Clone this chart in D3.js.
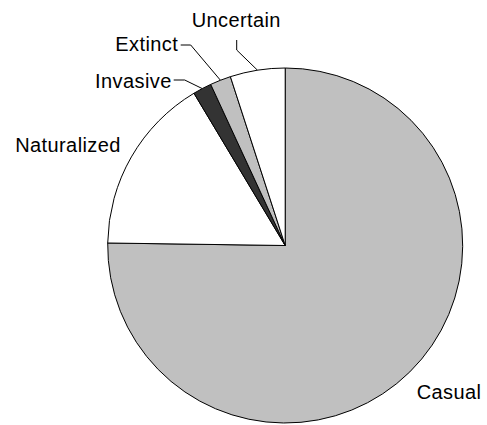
<!DOCTYPE html>
<html>
<head>
<meta charset="utf-8">
<script src="https://cdn.jsdelivr.net/npm/d3@7"></script>
<style>
  html, body { margin: 0; padding: 0; background: #fff; }
  svg { display: block; }
  text { font-family: "Liberation Sans", Arial, sans-serif; font-size: 20px; letter-spacing: 0.4px; fill: #000; }
</style>
</head>
<body>
<svg id="chart" width="487" height="425"></svg>
<script>
// ---- data ----
const categories = ["Casual", "Naturalized", "Invasive", "Extinct", "Uncertain"];
const values = [75.3, 16.2, 1.7, 1.9, 5.0];
const fills = ["#c0c0c0", "#ffffff", "#333333", "#c0c0c0", "#ffffff"];

// ---- layout ----
const W = 487, H = 425;
const cx = 285.2, cy = 245.5, R = 177.5;

// label placement (offsets relative to pie centre) and leader elbows
const labelLayout = {
  Casual:      { x: 131.5, y: 153,   anchor: "start", leader: null },
  Naturalized: { x: -270,  y: -94,   anchor: "start", leader: null },
  Invasive:    { x: -113.5, y: -157.5, anchor: "end",  leader: [[-111.5, -165.5], [-100.5, -165.5]] },
  Extinct:     { x: -107,  y: -195, anchor: "end",   leader: [[-104.5, -200.5], [-94.5, -200.5]] },
  Uncertain:   { x: -93.5, y: -219, anchor: "start", leader: [[-48.5, -205.5], [-48.5, -195.5]] }
};

const data = categories.map((c, i) => ({ name: c, value: values[i], fill: fills[i] }));

const svg = d3.select("#chart");
const g = svg.append("g").attr("transform", `translate(${cx},${cy})`);

const pie = d3.pie().sort(null).value(d => d.value).startAngle(0).endAngle(2 * Math.PI);
const arcs = pie(data);
const arc = d3.arc().innerRadius(0).outerRadius(R);
const edgeArc = d3.arc().innerRadius(R).outerRadius(R);

g.selectAll("path.slice")
  .data(arcs)
  .join("path")
  .attr("class", "slice")
  .attr("d", arc)
  .attr("fill", d => d.data.fill)
  .attr("stroke", "#000")
  .attr("stroke-width", 1)
  .attr("stroke-linejoin", "round");

// leader lines
const line = d3.line();
arcs.forEach(a => {
  const L = labelLayout[a.data.name];
  if (!L.leader) return;
  const p = edgeArc.centroid(a);
  g.append("path")
    .attr("d", line([...L.leader, p]))
    .attr("fill", "none")
    .attr("stroke", "#000")
    .attr("stroke-width", 1);
});

// labels
arcs.forEach(a => {
  const L = labelLayout[a.data.name];
  g.append("text")
    .attr("x", L.x)
    .attr("y", L.y)
    .attr("text-anchor", L.anchor)
    .text(a.data.name);
});
</script>
</body>
</html>
